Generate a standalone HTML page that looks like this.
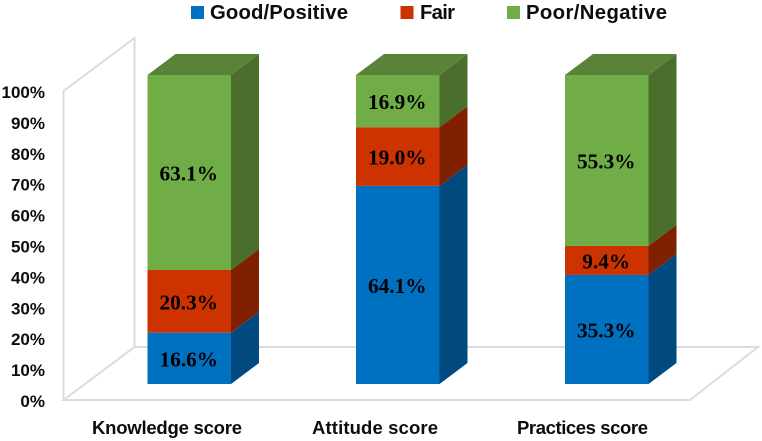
<!DOCTYPE html>
<html>
<head>
<meta charset="utf-8">
<title>Knowledge, attitude and practices scores</title>
<style>
html,body{margin:0;padding:0;background:#fff;width:762px;height:441px;overflow:hidden}
svg{display:block}
.sans{font-family:"Liberation Sans",sans-serif;font-weight:bold;fill:#0d0d0d}
.serif{font-family:"Liberation Serif",serif;font-weight:bold;fill:#000}
</style>
</head>
<body>
<svg id="chart" width="762" height="441" viewBox="0 0 762 441" xmlns="http://www.w3.org/2000/svg">
  <g fill="none" stroke="#dcdcdc" stroke-width="2">
    <polyline points="63.5,400 63.5,91 134.5,38 134.5,347"/>
    <polygon points="63.5,400 134.5,347 758,347 690,400"/>
  </g>
  <g id="ticks"></g>
  <g id="bars"></g>
  <g id="cats"></g>
  <g>
    <g>
      <rect x="191" y="6" width="13" height="13" fill="#0070c0"/>
      <text class="sans" x="210" y="19" font-size="20.3" textLength="138">Good/Positive</text>
    </g>
    <g>
      <rect x="400.5" y="6" width="13" height="13" fill="#cc3300"/>
      <text class="sans" x="420" y="19" font-size="20.3" textLength="35">Fair</text>
    </g>
    <g>
      <rect x="507" y="6" width="13" height="13" fill="#70ad47"/>
      <text class="sans" x="526" y="19" font-size="20.3" textLength="141">Poor/Negative</text>
    </g>
  </g>
</svg>
<script>
const categories = ["Knowledge score", "Attitude score", "Practices score"];
const goodValues = [16.6, 64.1, 35.3];
const fairValues = [20.3, 19.0, 9.4];
const poorValues = [63.1, 16.9, 55.3];
const tickValues = [0, 10, 20, 30, 40, 50, 60, 70, 80, 90, 100];
const seriesNames = ["good", "fair", "poor"];

const NS = "http://www.w3.org/2000/svg";
const seriesValues = [goodValues, fairValues, poorValues];
const frontColors = ["#0070c0", "#cc3300", "#70ad47"];
const sideColors = ["#004a80", "#7f2100", "#4a6e2c"];
const topColors = ["#005a9a", "#a32900", "#5a8338"];
const barLeft = [147.5, 356, 565];
const barWidth = 83.5;
const depthX = 28;
const depthY = 21;
const catLabelLeft = [92, 312, 517];
const catLabelWidth = [150, 126, 131];

function barY(v) { return 384 - v / 100 * 309; }
function tickY(v) { return 400 - v / 100 * 309; }
function make(tag, attrs, parent) {
  const el = document.createElementNS(NS, tag);
  for (const k in attrs) el.setAttribute(k, attrs[k]);
  parent.appendChild(el);
  return el;
}

const ticksG = document.getElementById("ticks");
tickValues.forEach(function (t) {
  const el = make("text", { x: 45, y: tickY(t) + 7, "text-anchor": "end", "font-size": 17, "class": "sans" }, ticksG);
  
  
  el.textContent = t + "%";
});

const barsG = document.getElementById("bars");
categories.forEach(function (cat, i) {
  const x0 = barLeft[i];
  const x1 = x0 + barWidth;
  let cum = 0;
  const labels = [];
  seriesValues.forEach(function (vals, s) {
    const yb = barY(cum);
    cum += vals[i];
    const yt = barY(cum);
    const side = make("polygon", {
      points: [x1, yb, x1 + depthX, yb - depthY, x1 + depthX, yt - depthY, x1, yt].join(" "),
      fill: sideColors[s]
    }, barsG);
    
    
    const front = make("rect", { x: x0, y: yt, width: barWidth, height: yb - yt, fill: frontColors[s] }, barsG);
    
    
    if (s === seriesValues.length - 1) {
      const top = make("polygon", {
        points: [x0, yt, x0 + depthX, yt - depthY, x1 + depthX, yt - depthY, x1, yt].join(" "),
        fill: topColors[s]
      }, barsG);
      
      
    }
    labels.push({ y: (yt + yb) / 2, v: vals[i] });
  });
  labels.forEach(function (l) {
    const t = make("text", { x: x0 + barWidth / 2 - 0.5, y: l.y + 8, "text-anchor": "middle", "font-size": 21.3, "class": "serif" }, barsG);
    
    
    t.textContent = l.v.toFixed(1) + "%";
  });
  const c = make("text", {
    x: catLabelLeft[i],
    y: 434, "font-size": 18.5, "class": "sans",
    textLength: catLabelWidth[i]
  }, document.getElementById("cats"));
  
  
  c.textContent = cat;
});
</script>
</body>
</html>
